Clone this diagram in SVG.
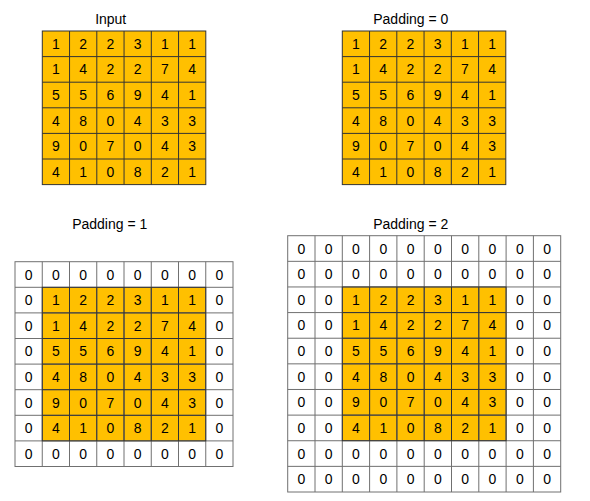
<svg xmlns="http://www.w3.org/2000/svg" width="590" height="501" viewBox="0 0 590 501">
<style>
.bg{fill:#fff}
.o{fill:#FFC000}
.wl{fill:none;stroke:#707070;stroke-width:1}
.ol{fill:none;stroke:#333;stroke-width:1}
text{font-family:"Liberation Sans",Arial,sans-serif;font-size:14px;fill:#000;text-anchor:middle}
</style>
<rect class="bg" x="0" y="0" width="590" height="501"/>

<g id="input">
<text x="110.7" y="24">Input</text>
<rect class="o" x="42.3" y="31" width="163.5" height="153.6"/>
<rect class="ol" x="42.3" y="31" width="163.5" height="153.6"/>
<path class="ol" d="M69.55 31V184.6M96.8 31V184.6M124.05 31V184.6M151.3 31V184.6M178.55 31V184.6M42.3 56.6H205.8M42.3 82.2H205.8M42.3 107.8H205.8M42.3 133.4H205.8M42.3 159H205.8"/>
<text x="55.9" y="48.8">1</text><text x="83.2" y="48.8">2</text><text x="110.4" y="48.8">2</text><text x="137.7" y="48.8">3</text><text x="164.9" y="48.8">1</text><text x="192.2" y="48.8">1</text>
<text x="55.9" y="74.4">1</text><text x="83.2" y="74.4">4</text><text x="110.4" y="74.4">2</text><text x="137.7" y="74.4">2</text><text x="164.9" y="74.4">7</text><text x="192.2" y="74.4">4</text>
<text x="55.9" y="100">5</text><text x="83.2" y="100">5</text><text x="110.4" y="100">6</text><text x="137.7" y="100">9</text><text x="164.9" y="100">4</text><text x="192.2" y="100">1</text>
<text x="55.9" y="125.6">4</text><text x="83.2" y="125.6">8</text><text x="110.4" y="125.6">0</text><text x="137.7" y="125.6">4</text><text x="164.9" y="125.6">3</text><text x="192.2" y="125.6">3</text>
<text x="55.9" y="151.2">9</text><text x="83.2" y="151.2">0</text><text x="110.4" y="151.2">7</text><text x="137.7" y="151.2">0</text><text x="164.9" y="151.2">4</text><text x="192.2" y="151.2">3</text>
<text x="55.9" y="176.8">4</text><text x="83.2" y="176.8">1</text><text x="110.4" y="176.8">0</text><text x="137.7" y="176.8">8</text><text x="164.9" y="176.8">2</text><text x="192.2" y="176.8">1</text>
</g>

<g id="padding0">
<text x="410.8" y="24">Padding = 0</text>
<rect class="o" x="342.3" y="31" width="163.5" height="153.6"/>
<rect class="ol" x="342.3" y="31" width="163.5" height="153.6"/>
<path class="ol" d="M369.55 31V184.6M396.8 31V184.6M424.05 31V184.6M451.3 31V184.6M478.55 31V184.6M342.3 56.6H505.8M342.3 82.2H505.8M342.3 107.8H505.8M342.3 133.4H505.8M342.3 159H505.8"/>
<text x="355.9" y="48.8">1</text><text x="383.2" y="48.8">2</text><text x="410.4" y="48.8">2</text><text x="437.7" y="48.8">3</text><text x="464.9" y="48.8">1</text><text x="492.2" y="48.8">1</text>
<text x="355.9" y="74.4">1</text><text x="383.2" y="74.4">4</text><text x="410.4" y="74.4">2</text><text x="437.7" y="74.4">2</text><text x="464.9" y="74.4">7</text><text x="492.2" y="74.4">4</text>
<text x="355.9" y="100">5</text><text x="383.2" y="100">5</text><text x="410.4" y="100">6</text><text x="437.7" y="100">9</text><text x="464.9" y="100">4</text><text x="492.2" y="100">1</text>
<text x="355.9" y="125.6">4</text><text x="383.2" y="125.6">8</text><text x="410.4" y="125.6">0</text><text x="437.7" y="125.6">4</text><text x="464.9" y="125.6">3</text><text x="492.2" y="125.6">3</text>
<text x="355.9" y="151.2">9</text><text x="383.2" y="151.2">0</text><text x="410.4" y="151.2">7</text><text x="437.7" y="151.2">0</text><text x="464.9" y="151.2">4</text><text x="492.2" y="151.2">3</text>
<text x="355.9" y="176.8">4</text><text x="383.2" y="176.8">1</text><text x="410.4" y="176.8">0</text><text x="437.7" y="176.8">8</text><text x="464.9" y="176.8">2</text><text x="492.2" y="176.8">1</text>
</g>

<g id="padding1">
<text x="109.7" y="229">Padding = 1</text>
<rect class="bg" x="15" y="261.7" width="218" height="204.8"/>
<rect class="o" x="42.25" y="287.3" width="163.5" height="153.6"/>
<rect class="wl" x="15" y="261.7" width="218" height="204.8"/>
<path class="wl" d="M42.25 261.7V466.5M69.5 261.7V466.5M96.75 261.7V466.5M124 261.7V466.5M151.25 261.7V466.5M178.5 261.7V466.5M205.75 261.7V466.5M15 287.3H233M15 312.9H233M15 338.5H233M15 364.1H233M15 389.7H233M15 415.3H233M15 440.9H233"/>
<rect class="ol" x="42.25" y="287.3" width="163.5" height="153.6"/>
<path class="ol" d="M69.5 287.3V440.9M96.75 287.3V440.9M124 287.3V440.9M151.25 287.3V440.9M178.5 287.3V440.9M42.25 312.9H205.75M42.25 338.5H205.75M42.25 364.1H205.75M42.25 389.7H205.75M42.25 415.3H205.75"/>
<text x="28.6" y="279.5">0</text><text x="55.9" y="279.5">0</text><text x="83.1" y="279.5">0</text><text x="110.4" y="279.5">0</text><text x="137.6" y="279.5">0</text><text x="164.9" y="279.5">0</text><text x="192.1" y="279.5">0</text><text x="219.4" y="279.5">0</text>
<text x="28.6" y="305.1">0</text><text x="55.9" y="305.1">1</text><text x="83.1" y="305.1">2</text><text x="110.4" y="305.1">2</text><text x="137.6" y="305.1">3</text><text x="164.9" y="305.1">1</text><text x="192.1" y="305.1">1</text><text x="219.4" y="305.1">0</text>
<text x="28.6" y="330.7">0</text><text x="55.9" y="330.7">1</text><text x="83.1" y="330.7">4</text><text x="110.4" y="330.7">2</text><text x="137.6" y="330.7">2</text><text x="164.9" y="330.7">7</text><text x="192.1" y="330.7">4</text><text x="219.4" y="330.7">0</text>
<text x="28.6" y="356.3">0</text><text x="55.9" y="356.3">5</text><text x="83.1" y="356.3">5</text><text x="110.4" y="356.3">6</text><text x="137.6" y="356.3">9</text><text x="164.9" y="356.3">4</text><text x="192.1" y="356.3">1</text><text x="219.4" y="356.3">0</text>
<text x="28.6" y="381.9">0</text><text x="55.9" y="381.9">4</text><text x="83.1" y="381.9">8</text><text x="110.4" y="381.9">0</text><text x="137.6" y="381.9">4</text><text x="164.9" y="381.9">3</text><text x="192.1" y="381.9">3</text><text x="219.4" y="381.9">0</text>
<text x="28.6" y="407.5">0</text><text x="55.9" y="407.5">9</text><text x="83.1" y="407.5">0</text><text x="110.4" y="407.5">7</text><text x="137.6" y="407.5">0</text><text x="164.9" y="407.5">4</text><text x="192.1" y="407.5">3</text><text x="219.4" y="407.5">0</text>
<text x="28.6" y="433.1">0</text><text x="55.9" y="433.1">4</text><text x="83.1" y="433.1">1</text><text x="110.4" y="433.1">0</text><text x="137.6" y="433.1">8</text><text x="164.9" y="433.1">2</text><text x="192.1" y="433.1">1</text><text x="219.4" y="433.1">0</text>
<text x="28.6" y="458.7">0</text><text x="55.9" y="458.7">0</text><text x="83.1" y="458.7">0</text><text x="110.4" y="458.7">0</text><text x="137.6" y="458.7">0</text><text x="164.9" y="458.7">0</text><text x="192.1" y="458.7">0</text><text x="219.4" y="458.7">0</text>
</g>

<g id="padding2">
<text x="410.7" y="229">Padding = 2</text>
<rect class="bg" x="287.7" y="235.7" width="273" height="256.3"/>
<rect class="o" x="342.3" y="286.96" width="163.8" height="153.78"/>
<rect class="wl" x="287.7" y="235.7" width="273" height="256.3"/>
<path class="wl" d="M315 235.7V492M342.3 235.7V492M369.6 235.7V492M396.9 235.7V492M424.2 235.7V492M451.5 235.7V492M478.8 235.7V492M506.1 235.7V492M533.4 235.7V492M287.7 261.33H560.7M287.7 286.96H560.7M287.7 312.59H560.7M287.7 338.22H560.7M287.7 363.85H560.7M287.7 389.48H560.7M287.7 415.11H560.7M287.7 440.74H560.7M287.7 466.37H560.7"/>
<rect class="ol" x="342.3" y="286.96" width="163.8" height="153.78"/>
<path class="ol" d="M369.6 286.96V440.74M396.9 286.96V440.74M424.2 286.96V440.74M451.5 286.96V440.74M478.8 286.96V440.74M342.3 312.59H506.1M342.3 338.22H506.1M342.3 363.85H506.1M342.3 389.48H506.1M342.3 415.11H506.1"/>
<text x="301.4" y="253.5">0</text><text x="328.7" y="253.5">0</text><text x="356" y="253.5">0</text><text x="383.3" y="253.5">0</text><text x="410.6" y="253.5">0</text><text x="437.9" y="253.5">0</text><text x="465.2" y="253.5">0</text><text x="492.5" y="253.5">0</text><text x="519.8" y="253.5">0</text><text x="547.1" y="253.5">0</text>
<text x="301.4" y="279.1">0</text><text x="328.7" y="279.1">0</text><text x="356" y="279.1">0</text><text x="383.3" y="279.1">0</text><text x="410.6" y="279.1">0</text><text x="437.9" y="279.1">0</text><text x="465.2" y="279.1">0</text><text x="492.5" y="279.1">0</text><text x="519.8" y="279.1">0</text><text x="547.1" y="279.1">0</text>
<text x="301.4" y="304.8">0</text><text x="328.7" y="304.8">0</text><text x="356" y="304.8">1</text><text x="383.3" y="304.8">2</text><text x="410.6" y="304.8">2</text><text x="437.9" y="304.8">3</text><text x="465.2" y="304.8">1</text><text x="492.5" y="304.8">1</text><text x="519.8" y="304.8">0</text><text x="547.1" y="304.8">0</text>
<text x="301.4" y="330.4">0</text><text x="328.7" y="330.4">0</text><text x="356" y="330.4">1</text><text x="383.3" y="330.4">4</text><text x="410.6" y="330.4">2</text><text x="437.9" y="330.4">2</text><text x="465.2" y="330.4">7</text><text x="492.5" y="330.4">4</text><text x="519.8" y="330.4">0</text><text x="547.1" y="330.4">0</text>
<text x="301.4" y="356">0</text><text x="328.7" y="356">0</text><text x="356" y="356">5</text><text x="383.3" y="356">5</text><text x="410.6" y="356">6</text><text x="437.9" y="356">9</text><text x="465.2" y="356">4</text><text x="492.5" y="356">1</text><text x="519.8" y="356">0</text><text x="547.1" y="356">0</text>
<text x="301.4" y="381.7">0</text><text x="328.7" y="381.7">0</text><text x="356" y="381.7">4</text><text x="383.3" y="381.7">8</text><text x="410.6" y="381.7">0</text><text x="437.9" y="381.7">4</text><text x="465.2" y="381.7">3</text><text x="492.5" y="381.7">3</text><text x="519.8" y="381.7">0</text><text x="547.1" y="381.7">0</text>
<text x="301.4" y="407.3">0</text><text x="328.7" y="407.3">0</text><text x="356" y="407.3">9</text><text x="383.3" y="407.3">0</text><text x="410.6" y="407.3">7</text><text x="437.9" y="407.3">0</text><text x="465.2" y="407.3">4</text><text x="492.5" y="407.3">3</text><text x="519.8" y="407.3">0</text><text x="547.1" y="407.3">0</text>
<text x="301.4" y="432.9">0</text><text x="328.7" y="432.9">0</text><text x="356" y="432.9">4</text><text x="383.3" y="432.9">1</text><text x="410.6" y="432.9">0</text><text x="437.9" y="432.9">8</text><text x="465.2" y="432.9">2</text><text x="492.5" y="432.9">1</text><text x="519.8" y="432.9">0</text><text x="547.1" y="432.9">0</text>
<text x="301.4" y="458.6">0</text><text x="328.7" y="458.6">0</text><text x="356" y="458.6">0</text><text x="383.3" y="458.6">0</text><text x="410.6" y="458.6">0</text><text x="437.9" y="458.6">0</text><text x="465.2" y="458.6">0</text><text x="492.5" y="458.6">0</text><text x="519.8" y="458.6">0</text><text x="547.1" y="458.6">0</text>
<text x="301.4" y="484.2">0</text><text x="328.7" y="484.2">0</text><text x="356" y="484.2">0</text><text x="383.3" y="484.2">0</text><text x="410.6" y="484.2">0</text><text x="437.9" y="484.2">0</text><text x="465.2" y="484.2">0</text><text x="492.5" y="484.2">0</text><text x="519.8" y="484.2">0</text><text x="547.1" y="484.2">0</text>
</g>
</svg>
